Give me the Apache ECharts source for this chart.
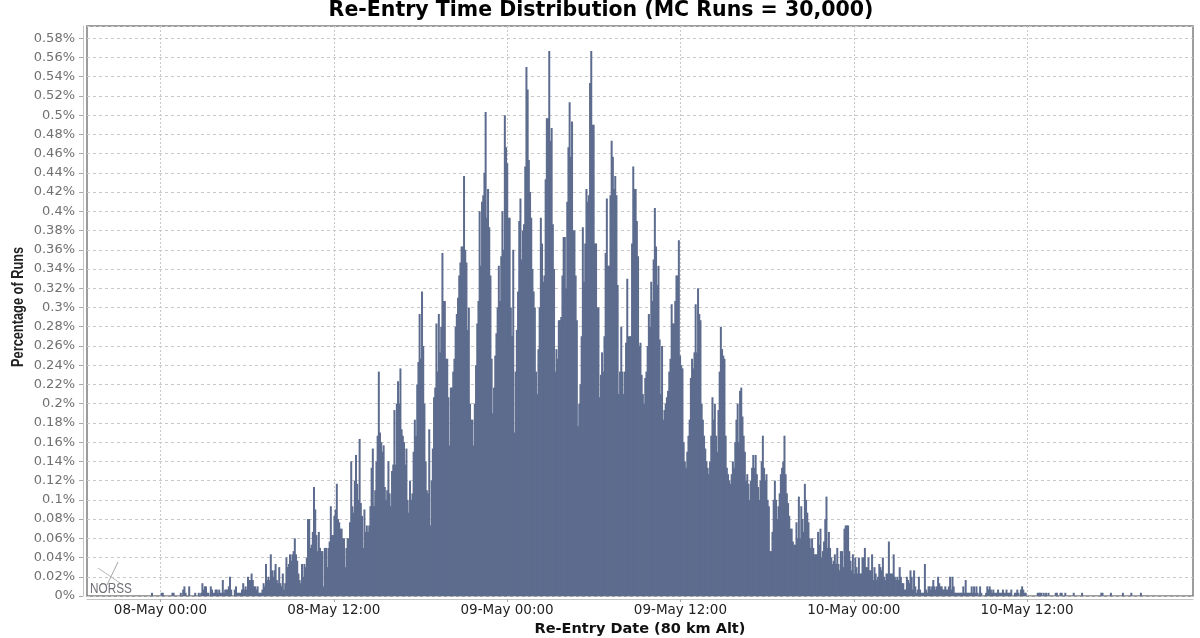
<!DOCTYPE html>
<html>
<head>
<meta charset="utf-8">
<script src="https://cdn.jsdelivr.net/npm/echarts@6/dist/echarts.min.js"></script>
<style>
  html, body { margin: 0; padding: 0; background: #fff; }
  #chart { width: 1200px; height: 638px; }
</style>
</head>
<body>
<div id="chart"></div>
<script>
/* runs landing in each histogram bin, 25 bins per row */
const runsRise = [
  1,0,0,0,0,0,0,0,1,1,0,0,0,0,0,0,0,1,1,0,0,0,0,0,1,
  0,2,3,1,0,0,3,0,0,0,0,1,0,0,1,0,1,4,2,3,3,1,1,0,3,
  2,1,1,2,2,1,2,1,1,5,1,2,2,2,3,6,2,0,0,2,3,1,1,1,1,
  2,4,2,3,2,6,5,5,7,5,3,3,2,3,1,1,1,2,4,3,10,5,6,5,13,
  8,6,8,10,5,4,9,4,3,7,2,4,12,9,10,13,11,13,14,18,13,11,7,5,4,
  10,6,10,9,12,24,24,15,16,20,34,27,19,14,20,15,14,14,3,15,15,9,15,17,28,
  19,19,25,27,35,24,23,21,21,18,18,9,15,18,18,23,42,28,26,36,44,35,30,49,29,
  25,15,27,20,22,20,22,28,40,46,28,33,42,50,70,51,48,45,47,34,30,33,42,32,28,
  39,41,58,41,60,67,60,71,52,50,48,41,46,30,26,36,30,32,45,55,50,66,73,88,74
];
const runsPeak = [
  95,78,60,42,33,32,52,22,36,46,62,65,85,70,88,76,84,107,92,92,74,74,62,47,65,
  65,70,74,84,88,93,100,104,109,109,131,108,104,83,90,60,55,55,47,60,72,85,92,120,103,
  123,125,132,151,118,127,115,100,74,57,65,75,82,90,103,92,106,120,108,150,140,135,118,118,90,
  81,108,51,70,83,95,117,124,105,114,116,134,165,158,136,126,118,102,95,90,70,63,77,90,118,
  110,98,100,130,149,149,170,142,146,116,102,70,77,74,86,86,87,100,112,112,96,123,140,154,137,
  148,114,114,100,86,53,60,66,81,115,98,110,127,123,125,160,170,147,147,110,110,90,90,62,69,
  76,70,81,107,124,103,103,125,142,137,127,131,125,97,63,70,84,70,63,70,79,99,81,81,81,
  110,134,127,127,117,106,78,79,69,63,60,68,70,78,88,84,98,92,105,121,109,97,103,80,63
];
const runsFall = [
  78,55,58,60,62,64,70,74,91,85,85,92,100,100,111,75,72,71,48,42,40,45,50,55,68,
  74,71,76,91,76,96,88,86,60,55,50,46,42,40,38,42,50,62,55,60,50,45,58,70,84,
  77,75,74,50,40,38,36,35,38,42,40,48,55,60,48,64,65,56,50,45,36,38,35,30,36,
  40,44,40,44,38,34,30,36,42,50,40,36,38,30,28,14,14,20,30,36,30,24,28,32,38,
  40,42,50,38,32,29,25,21,21,17,16,16,23,18,31,18,28,24,20,35,30,26,23,18,15,
  18,15,13,13,13,20,16,21,12,14,17,24,31,15,20,15,12,10,11,13,10,15,10,8,14
];
const runsTail = [
  14,9,21,22,22,22,14,11,8,13,7,12,9,7,12,7,7,12,12,15,9,9,12,8,8,
  13,5,9,7,5,6,10,9,8,12,6,5,7,7,17,7,7,7,13,6,5,6,5,9,6,
  4,4,2,2,6,5,4,8,6,2,8,3,1,2,6,2,1,1,1,10,2,1,3,3,2,
  3,5,3,2,3,6,4,3,3,2,2,3,2,2,3,6,2,6,3,1,1,1,1,1,1,
  1,3,1,5,1,1,1,1,3,1,3,1,3,1,0,3,1,0,0,0,1,3,2,3,2,
  1,2,1,1,1,2,1,1,1,2,1,1,2,1,1,1,2,0,0,1,1,2,1,0,2,
  3,2,1,1,0,0,0,0,0,0,0,0,0,1,1,1,1,0,1,0,1,0,1,0,0,
  0,0,0,1,1,0,0,1,1,0,0,1,0,0,0,0,0,0,1,0,0,0,0,0,0,
  1,0,0,0,0,0,0,0,0,0,0,0,0,0,0,0,1,1,0,0,0,0,0,0,1,
  0,0,0,0,0,0,0,0,0,1,0,0,0,0,0,0,1,0,0,0,0,0,0,0,1
];
const mcRuns = 30000;
const firstBin = Date.UTC(2000, 4, 7, 23, 25);   // year is not shown on the chart
const binMinutes = 4.985;
const axisStart = Date.UTC(2000, 4, 7, 18, 55);
const axisEnd = Date.UTC(2000, 4, 10, 23, 29);
const xTicks = [
  Date.UTC(2000, 4, 8, 0), Date.UTC(2000, 4, 8, 12),
  Date.UTC(2000, 4, 9, 0), Date.UTC(2000, 4, 9, 12),
  Date.UTC(2000, 4, 10, 0), Date.UTC(2000, 4, 10, 12)
];
const yMax = 0.5927;
const yStep = 0.02;
const months = ['Jan','Feb','Mar','Apr','May','Jun','Jul','Aug','Sep','Oct','Nov','Dec'];

const pad = n => String(n).padStart(2, '0');
const barData = [...runsRise, ...runsPeak, ...runsFall, ...runsTail]
  .map((runs, i) => [firstBin + i * binMinutes * 60000, runs / mcRuns * 100]);

const chart = echarts.init(document.getElementById('chart'), null, { renderer: 'canvas' });
chart.setOption({
  animation: false,
  backgroundColor: '#fff',
  title: {
    text: 'Re-Entry Time Distribution (MC Runs = 30,000)',
    left: 596, top: -5, textAlign: 'center',
    textStyle: { fontFamily: 'DejaVu Sans', fontSize: 20.5, fontWeight: 'bold', color: '#000' }
  },
  grid: {
    left: 87, right: 7, top: 26, bottom: 42,
    outerBoundsMode: 'none',
    show: true, borderColor: '#7d7d7d', borderWidth: 1.5, backgroundColor: '#fff'
  },
  xAxis: {
    type: 'value',
    min: axisStart, max: axisEnd,
    offset: 3,
    name: 'Re-Entry Date (80 km Alt)',
    nameLocation: 'middle', nameGap: 23,
    nameTextStyle: { fontFamily: 'DejaVu Sans', fontSize: 14.5, fontWeight: 'bold', color: '#111' },
    axisLine: { show: true, onZero: false, lineStyle: { color: '#c4c4c4' } },
    axisTick: { show: true, length: 3, customValues: xTicks, lineStyle: { color: '#aaa' } },
    axisLabel: {
      customValues: xTicks,
      fontFamily: 'DejaVu Sans', fontSize: 13.5, color: '#222', margin: 4,
      hideOverlap: false,
      formatter: v => {
        const d = new Date(v);
        return pad(d.getUTCDate()) + '-' + months[d.getUTCMonth()] + ' ' + pad(d.getUTCHours()) + ':' + pad(d.getUTCMinutes());
      }
    },
    splitLine: { show: true, lineStyle: { color: '#c8c8c8', type: [2, 2] } }
  },
  yAxis: {
    type: 'value',
    min: 0, max: yMax, interval: yStep,
    offset: 4,
    axisLine: { show: true, lineStyle: { color: '#c4c4c4' } },
    axisTick: { show: true, length: 4, lineStyle: { color: '#aaa' } },
    axisLabel: {
      fontFamily: 'DejaVu Sans', fontSize: 13, color: '#707070', margin: 8,
      showMaxLabel: false,
      formatter: v => parseFloat(v.toFixed(2)) + '%'
    },
    splitLine: { show: true, lineStyle: { color: '#c8c8c8', type: [3, 3] } }
  },
  series: [{
    type: 'bar',
    data: barData,
    barWidth: 2,
    itemStyle: { color: '#5d6c8e' },
    silent: true
  }],
  graphic: [
    // condensed y axis title
    { type: 'text', x: 11, y: 367, rotation: Math.PI / 2, scaleX: 0.8,
      style: { text: 'Percentage of Runs', fontFamily: 'Liberation Sans', fontWeight: 'bold', fontSize: 16, fill: '#222' } },
    // NORSS mark in the lower left corner of the plot
    { type: 'line', shape: { x1: 118, y1: 562, x2: 107, y2: 585 }, style: { stroke: '#a8a8a8', lineWidth: 1 } },
    { type: 'line', shape: { x1: 98, y1: 568, x2: 120, y2: 583 }, style: { stroke: '#b8b8b8', lineWidth: 1 } },
    { type: 'text', x: 90, y: 581, scaleX: 0.76,
      style: { text: 'NORSS', fontFamily: 'Liberation Sans', fontSize: 15.5, fill: '#6f6f78' } }
  ]
});
</script>
</body>
</html>
